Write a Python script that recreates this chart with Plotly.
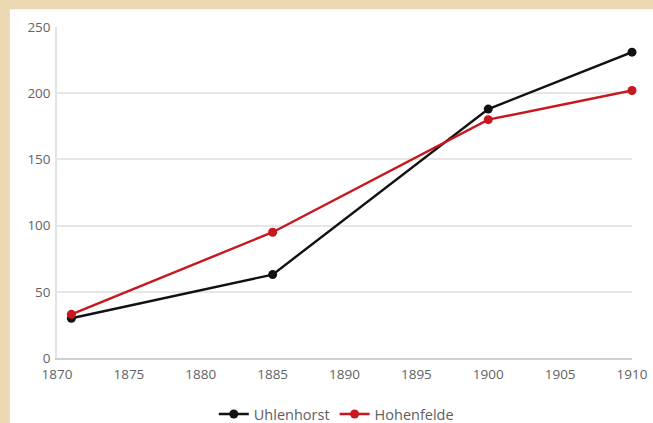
import plotly.graph_objects as go

years_u = [1871, 1885, 1900, 1910]
uhlenhorst = [30, 63, 188, 231]
years_h = [1871, 1885, 1900, 1910]
hohenfelde = [33, 95, 180, 202]
x_ticks = [1870, 1875, 1880, 1885, 1890, 1895, 1900, 1905, 1910]
y_ticks = [0, 50, 100, 150, 200, 250]

fig = go.Figure()
fig.add_trace(go.Scatter(x=years_u, y=uhlenhorst, name="Uhlenhorst", mode="lines+markers",
                         line=dict(color="#111111", width=2.4), marker=dict(size=9, color="#111111"),
                         cliponaxis=False))
fig.add_trace(go.Scatter(x=years_h, y=hohenfelde, name="Hohenfelde", mode="lines+markers",
                         line=dict(color="#c8171e", width=2.4), marker=dict(size=9, color="#c8171e"),
                         cliponaxis=False))

fig.add_shape(type="rect", xref="paper", yref="paper", x0=-0.082, x1=1.1, y0=-0.3, y1=1.054,
              fillcolor="white", line=dict(width=0), layer="below")

tick_font = dict(family="Open Sans, Liberation Sans, sans-serif", size=13.5, color="#636363")

fig.update_layout(
    width=653, height=423,
    margin=dict(l=57, r=21, t=27, b=65, autoexpand=False),
    paper_bgcolor="#ecd9b4",
    plot_bgcolor="white",
    font=dict(family="Open Sans, Liberation Sans, sans-serif", size=13, color="#636363"),
    showlegend=True,
    legend=dict(orientation="h", xref="container", yref="container", x=0.515, xanchor="center",
                y=0.021, yanchor="middle",
                font=dict(family="Open Sans, Liberation Sans, sans-serif", size=14.5, color="#5e5e5e"),
                bgcolor="rgba(0,0,0,0)"),
)
fig.update_xaxes(range=[1870, 1910], tickvals=x_ticks, showgrid=False, zeroline=False, automargin=False,
                 showline=True, linecolor="#d0d0d0", linewidth=1.5, ticks="", tickfont=tick_font,
                 ticklabelstandoff=3)
fig.update_yaxes(range=[0, 250], tickvals=y_ticks, showgrid=True, gridcolor="#e6e6e6", gridwidth=1.5,
                 automargin=False, zeroline=False, showline=True, linecolor="#e3e3e3", linewidth=1.5,
                 ticks="", tickfont=tick_font, ticklabelstandoff=2)

js = ("document.body.style.margin='0';document.body.style.overflow='hidden';"
      "document.body.style.background='#ecd9b4';")
fig.write_html("out.html", post_script=js, config={"displayModeBar": False})
